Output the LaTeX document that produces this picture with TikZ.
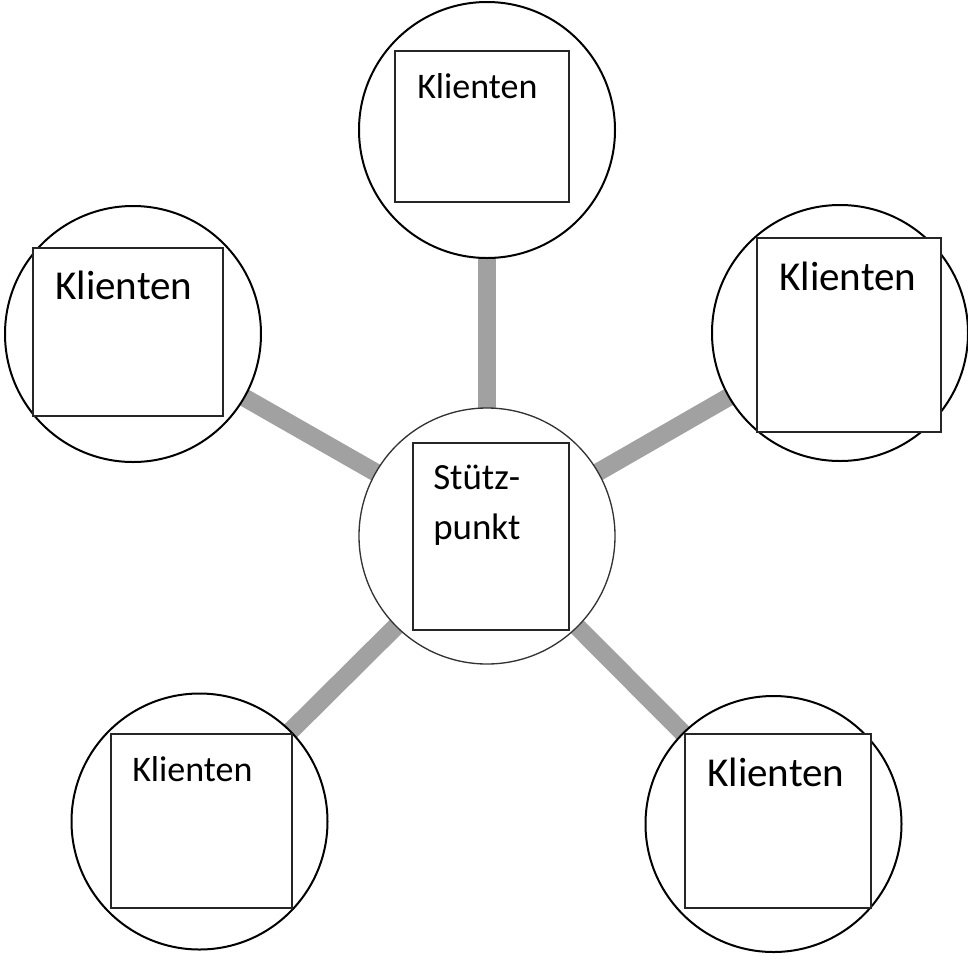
\documentclass[tikz,border=0pt]{standalone}
\usepackage{fontspec}
\setmainfont{Carlito}
\usetikzlibrary{backgrounds}
\begin{document}
\begin{tikzpicture}[x=0.75pt,y=-0.75pt,
  outer/.style={circle,draw=black,line width=1.5pt,fill=white,inner sep=0pt,minimum size=192pt},
  hub/.style={circle,draw=black!80,line width=1pt,fill=white,inner sep=0pt,minimum size=192pt},
  box/.style={rectangle,draw=black!85,line width=1.1pt,fill=white,inner sep=0pt},
  conn/.style={draw=black!37,line width=13.5pt},
  lblS/.style={anchor=base west,inner sep=0pt,font=\fontsize{27}{33}\selectfont},
  lblL/.style={anchor=base west,inner sep=0pt,font=\fontsize{30.8}{37}\selectfont},
  lblH/.style={anchor=base west,inner sep=0pt,font=\fontsize{27.7}{37.5}\selectfont}]
  \useasboundingbox (0,0) rectangle (968,954);

  % circles
  \node[hub]   (hub) at (487,536) {};
  \node[outer] (ct)  at (487,130) {};
  \node[outer] (cl)  at (133,334) {};
  \node[outer] (cr)  at (840,333) {};
  \node[outer] (cbl) at (199.5,821.5) {};
  \node[outer] (cbr) at (773.5,824) {};

  % spokes behind the circles
  \begin{scope}[on background layer]
    \foreach \c in {ct,cl,cr,cbl,cbr}
      \draw[conn] (hub.center) -- (\c.center);
  \end{scope}

  % boxes
  \node[box,minimum width=130.5pt,minimum height=113.25pt] (bt)  at (482,126.5) {};
  \node[box,minimum width=142.5pt,minimum height=126pt]    (bl)  at (128,332) {};
  \node[box,minimum width=138pt,minimum height=145.5pt]    (br)  at (849,335) {};
  \node[box,minimum width=135.75pt,minimum height=130.5pt] (bbl) at (201.5,821) {};
  \node[box,minimum width=139.5pt,minimum height=130.5pt]  (bbr) at (778,821) {};
  \node[box,minimum width=117pt,minimum height=140.25pt]   (bh)  at (491,536.5) {};

  % labels
  \node[lblS] (tt)  at (417,98)  {Klienten};
  \node[lblL] (tl)  at (55,299)  {Klienten};
  \node[lblL] (tr)  at (779,290) {Klienten};
  \node[lblS] (tbl) at (132,781) {Klienten};
  \node[lblL] (tbr) at (707,786) {Klienten};
  \node[lblH] (th1) at (433,489) {Stütz-};
  \node[lblH] (th2) at (433,539) {punkt};
\end{tikzpicture}
\end{document}
